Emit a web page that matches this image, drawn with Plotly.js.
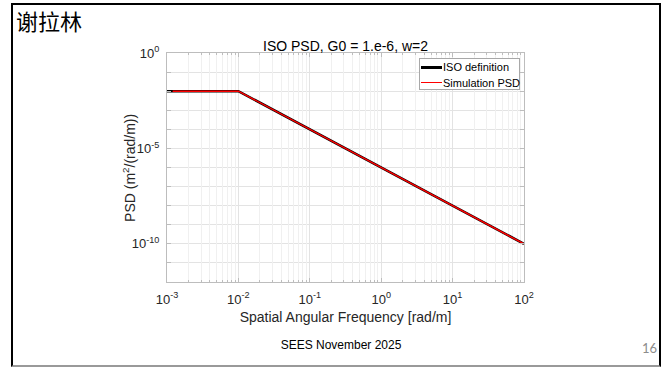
<!DOCTYPE html>
<html><head><meta charset="utf-8">
<script src="https://cdn.plot.ly/plotly-3.0.1.min.js"></script>
<style>
html,body{margin:0;padding:0;background:#fff;}
#wrap{position:relative;width:667px;height:367px;overflow:hidden;}
#plot{position:absolute;left:0;top:0;width:667px;height:367px;}
.ov{position:absolute;pointer-events:none;white-space:nowrap;}
#legend{position:absolute;left:419px;top:58px;width:99px;height:30px;border:1px solid #a8a8a8;background:#fff;font-family:'Liberation Sans';font-size:11px;color:#000;}
.lrow{position:absolute;left:0;height:16px;line-height:16px;}
.lline{position:absolute;left:1px;width:21px;}
.ltxt{position:absolute;left:23px;top:0;}
</style></head>
<body>
<div id="wrap">
<div id="plot"></div>
<div id="legend" class="ov"></div>
<div class="ov" style="left:11px;top:3px;width:646px;height:360px;border-top:2px solid #000;border-left:2px solid #000;border-right:2px solid #000;border-bottom:2px solid #999;"></div>
<div class="ov" style="left:16px;top:6px;font-family:'Noto Sans CJK SC';font-size:22px;line-height:28px;color:#000;">谢拉林</div>
<div class="ov" style="left:241px;width:200px;text-align:center;top:337px;font-family:'Liberation Sans';font-size:12px;line-height:16px;color:#000;">SEES November 2025</div>
<div class="ov" style="left:642px;top:340px;font-family:'Lato';font-size:13px;line-height:16px;color:#8c8c8c;">16</div>
</div>
<script>
// Data
const isoFreq = [0.001, 0.01, 100];
const isoPSD = [1e-2, 1e-2, 1e-10];
const simFreq = [0.0012, 0.01, 100];
const simPSD = [1e-2, 1e-2, 1e-10];
const seriesNames = ['ISO definition', 'Simulation PSD'];
const seriesColors = ['#000000', '#ff0000'];
const seriesWidths = [2.5, 1.5];
const xTickExp = [-3, -2, -1, 0, 1, 2];
const yTickExp = [0, -1, -2, -3, -4, -5, -6, -7, -8, -9, -10, -11, -12];
const yLabeledExp = [0, -5, -10];

const xTickVals = xTickExp.map(e => Math.pow(10, e));
const xTickText = xTickExp.map(e => '10<sup>' + e + '</sup>');
const yTickVals = yTickExp.map(e => Math.pow(10, e));
const yTickText = yTickExp.map(e => yLabeledExp.includes(e) ? '10<sup>' + e + '</sup>' : '');
const minorVals = [];
for (let e = -3; e < 2; e++) for (let m = 2; m <= 9; m++) minorVals.push(m * Math.pow(10, e));

const FONT = 'Liberation Sans, Arial, sans-serif';
const axFont = {family: FONT, size: 13, color: '#262626'};

const traces = [
  {x: isoFreq, y: isoPSD, type: 'scatter', mode: 'lines', name: seriesNames[0], line: {color: seriesColors[0], width: seriesWidths[0]}},
  {x: simFreq, y: simPSD, type: 'scatter', mode: 'lines', name: seriesNames[1], line: {color: seriesColors[1], width: seriesWidths[1]}},
  {x: [], y: [], xaxis: 'x2', yaxis: 'y', showlegend: false, hoverinfo: 'skip'}
];

const layout = {
  width: 667, height: 367,
  margin: {l: 166.7, r: 143, t: 53, b: 85, pad: 0},
  paper_bgcolor: '#ffffff', plot_bgcolor: '#ffffff',
  showlegend: false,
  title: {text: 'ISO PSD, G0 = 1.e-6, w=2', x: 0.5, xref: 'paper', xanchor: 'center', y: 1, yref: 'paper', yanchor: 'bottom', pad: {b: 2},
          font: {family: FONT, size: 14, color: '#000'}},
  xaxis: {
    type: 'log', range: [-3, 2], autorange: false,
    tickvals: xTickVals, ticktext: xTickText, tickfont: axFont, ticklabelstandoff: 5,
    ticks: 'inside', ticklen: 4, tickcolor: '#bdbdbd',
    showline: true, linecolor: '#bdbdbd', linewidth: 1, mirror: 'ticks',
    showgrid: true, gridcolor: '#e3e3e3', gridwidth: 1, zeroline: false,
    title: {text: 'Spatial Angular Frequency [rad/m]', standoff: 6, font: {family: FONT, size: 14, color: '#262626'}}
  },
  xaxis2: {
    type: 'log', range: [-3, 2], autorange: false, overlaying: 'x', anchor: 'y',
    tickvals: minorVals, showticklabels: false,
    ticks: 'inside', ticklen: 2, tickcolor: '#bdbdbd', mirror: 'ticks', showline: false,
    showgrid: true, gridcolor: '#f0f0f0', gridwidth: 1, zeroline: false
  },
  yaxis: {
    type: 'log', range: [-12, 0], autorange: false,
    tickvals: yTickVals, ticktext: yTickText, tickfont: axFont, ticklabelstandoff: 4,
    ticks: 'inside', ticklen: 4, tickcolor: '#bdbdbd',
    showline: true, linecolor: '#bdbdbd', linewidth: 1, mirror: 'ticks',
    showgrid: true, gridcolor: '#e3e3e3', gridwidth: 1, zeroline: false
  },
  annotations: [{
    text: 'PSD (m<sup>2</sup>/(rad/m))', xref: 'paper', yref: 'paper', x: -0.108, y: 0.5,
    xanchor: 'center', yanchor: 'middle', textangle: -90, showarrow: false,
    font: {family: FONT, size: 14, color: '#262626'}
  }]
};

Plotly.newPlot('plot', traces, layout, {staticPlot: true, displayModeBar: false});

// Legend built from the series arrays
const leg = document.getElementById('legend');
seriesNames.forEach((n, i) => {
  const row = document.createElement('div');
  row.className = 'lrow';
  row.style.top = (i * 15.5) + 'px';
  row.style.width = '99px';
  const ln = document.createElement('div');
  ln.className = 'lline';
  ln.style.height = (i === 0 ? 3 : 1.5) + 'px';
  ln.style.top = (8 - (i === 0 ? 1.5 : 0.75)) + 'px';
  ln.style.background = seriesColors[i];
  const tx = document.createElement('div');
  tx.className = 'ltxt';
  tx.textContent = n;
  row.appendChild(ln); row.appendChild(tx);
  leg.appendChild(row);
});
</script>
</body></html>
